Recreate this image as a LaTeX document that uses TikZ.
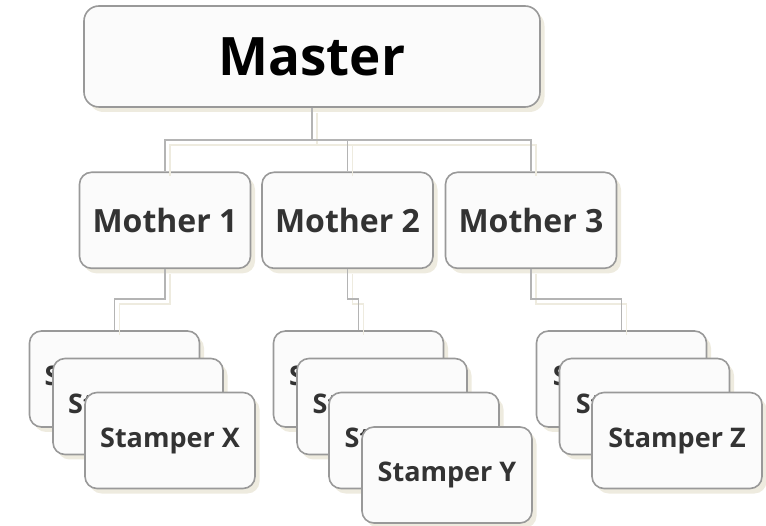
\documentclass[tikz,border=0pt]{standalone}
\usepackage{fontspec}
\setmainfont{Open Sans}
\usetikzlibrary{shadows,calc}

\definecolor{boxfill}{HTML}{FBFBFB}
\definecolor{boxline}{HTML}{999999}
\definecolor{wire}{HTML}{B4B4B4}
\definecolor{shade}{HTML}{EEEBDF}
\definecolor{labeltext}{HTML}{333333}

\tikzset{
  card/.style={draw=boxline, line width=1.6pt, fill=boxfill, rounded corners=12pt,
    inner sep=0pt, align=center,
    drop shadow={shadow xshift=4.5pt, shadow yshift=-5pt, fill=shade, opacity=1}},
  masterbox/.style={card, minimum width=456pt, minimum height=101pt, rounded corners=15pt,
    font=\fontsize{53}{58}\selectfont\bfseries, text=black},
  motherbox/.style={card, minimum width=171pt, minimum height=96pt,
    font=\fontsize{32}{35}\selectfont\bfseries, text=labeltext},
  stamperbox/.style={card, minimum width=170pt, minimum height=96pt,
    font=\fontsize{27}{30}\selectfont\bfseries, text=labeltext},
  wireline/.style={draw=wire, line width=1.6pt},
  wireshade/.style={draw=shade, line width=1.6pt, transform canvas={shift={(5pt,-5pt)}}},
}

\begin{document}
\begin{tikzpicture}[x=1pt, y=-1pt]
  \useasboundingbox (0,0) rectangle (766,526);

  % top level
  \node[masterbox] (master) at (312,56.5) {Master};

  % second level
  \node[motherbox] (m1) at (165,220.3) {Mother 1};
  \node[motherbox] (m2) at (347.5,220.3) {Mother 2};
  \node[motherbox] (m3) at (531,220.3) {Mother 3};

  % stamper stacks, back to front
  \node[stamperbox] (x1) at (114.5,379) {Stamper X};
  \node[stamperbox] (x2) at (138,406.5) {Stamper X};
  \node[stamperbox] (x3) at (170,440.5) {Stamper X};

  \node[stamperbox] (y1) at (358.5,379) {Stamper Y};
  \node[stamperbox] (y2) at (382,406.5) {Stamper Y};
  \node[stamperbox] (y3) at (414,440.5) {Stamper Y};
  \node[stamperbox] (y4) at (447,475) {Stamper Y};

  \node[stamperbox] (z1) at (621.5,379) {Stamper Z};
  \node[stamperbox] (z2) at (644.5,406.5) {Stamper Z};
  \node[stamperbox] (z3) at (677,440.5) {Stamper Z};

  % horizontal bus levels
  \coordinate (topbus) at (0,140);
  \coordinate (lowbus) at (0,299);

  % connector shadows
  \foreach \m in {m1,m2,m3}
    \path[wireshade] (master.south) -- (master.south |- topbus) -| (\m.north);
  \path[wireshade] (m1.south) -- (m1.south |- lowbus) -| (x1.north);
  \path[wireshade] (m2.south) -- (m2.south |- lowbus) -| (y1.north);
  \path[wireshade] (m3.south) -- (m3.south |- lowbus) -| (z1.north);

  % connectors
  \foreach \m in {m1,m2,m3}
    \path[wireline] (master.south) -- (master.south |- topbus) -| (\m.north);
  \path[wireline] (m1.south) -- (m1.south |- lowbus) -| (x1.north);
  \path[wireline] (m2.south) -- (m2.south |- lowbus) -| (y1.north);
  \path[wireline] (m3.south) -- (m3.south |- lowbus) -| (z1.north);
\end{tikzpicture}
\end{document}
